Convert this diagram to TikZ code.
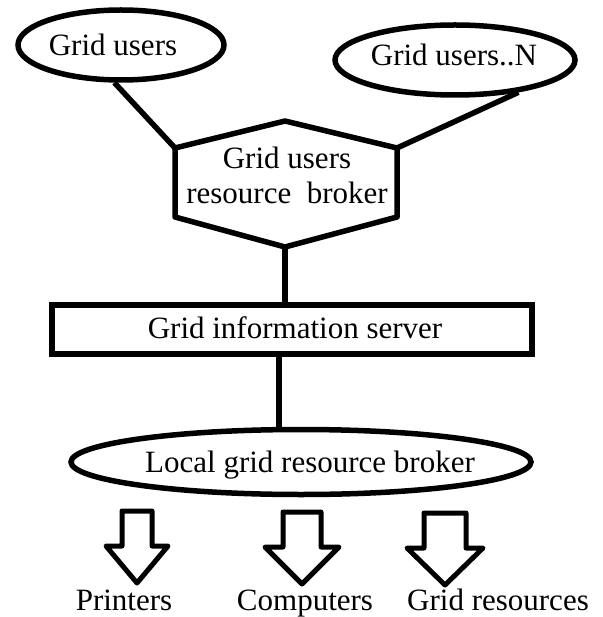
\documentclass[tikz,border=0pt]{standalone}
\usepackage{fontspec}
\setmainfont{Liberation Serif}
\usetikzlibrary{shapes.geometric}
\tikzset{
  every node/.style={font=\fontsize{31}{35}\selectfont, inner sep=0pt},
  label text/.style={anchor=base},
  thick line/.style={line width=5.5pt, line join=round},
  oval/.style={ellipse, draw, line width=5.5pt},
  boxnode/.style={rectangle, draw, line width=5.5pt},
  arrowline/.style={line width=5pt, line join=round},
  pics/blockarrow/.style n args={2}{code={
    \draw[arrowline] (-#1,0) -- (#1,0) -- (#1,35) -- (#2,35) -- (0,72) -- (-#2,35) -- (-#1,35) -- cycle;}}
}
\begin{document}
\begin{tikzpicture}[x=1pt,y=-1pt]
\useasboundingbox (0,0) rectangle (602,617);
% top ellipses
\node[oval, minimum width=206pt, minimum height=70pt] (e1) at (121,45) {};
\node[label text] (t1) at (113,56) {Grid users};
\node[oval, minimum width=240pt, minimum height=70pt] (e2) at (455,60) {};
\node[label text] (t2) at (454,66) {Grid users..N};
% hexagon
\coordinate (hT) at (285,121);
\coordinate (hUR) at (397,148);
\coordinate (hLR) at (397,217);
\coordinate (hB) at (285,247);
\coordinate (hLL) at (175,217);
\coordinate (hUL) at (175,148);
\draw[thick line] (hT) -- (hUR) -- (hLR) -- (hB) -- (hLL) -- (hUL) -- cycle;
\node[label text] (hex1) at (287,169) {Grid users};
\node[label text] (hex2) at (287,204) {resource~~broker};
\draw[thick line] (e1.260) -- (hUL);
\draw[thick line] (e2.333) -- (hUR);
% information server
\node[boxnode, minimum width=480pt, minimum height=49pt] (gis) at (292,329.5) {};
\node[label text] (gist) at (295,338) {Grid information server};
\draw[thick line] (hB) -- (hB |- gis.north);
% local broker
\node[oval, minimum width=460pt, minimum height=65pt] (lg) at (301,462) {};
\node[label text] (lgt) at (310,472) {Local grid resource broker};
\coordinate (lnk) at (279,354);
\draw[thick line] (lnk) -- (lnk |- lg.north);
% resource arrows
\pic at (137,511) {blockarrow={15}{31}};
\pic at (302,512) {blockarrow={19}{37}};
\pic at (445,513) {blockarrow={21}{38}};
% labels
\node[label text] (p) at (124,610) {Printers};
\node[label text] (c) at (305,610) {Computers};
\node[label text] (g) at (498,610) {Grid resources};
\end{tikzpicture}
\end{document}
